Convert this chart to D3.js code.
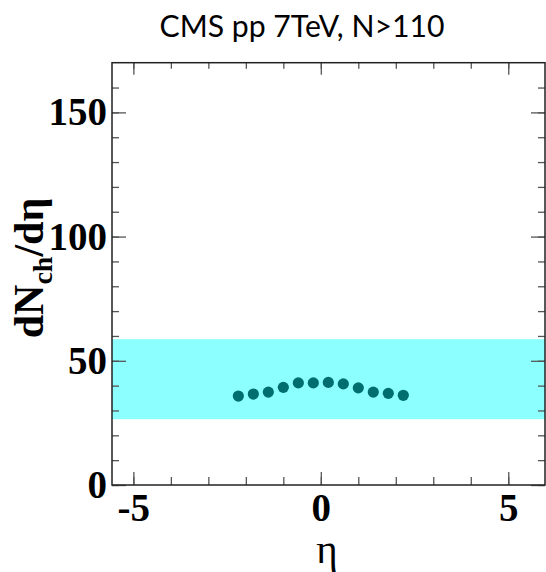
<!DOCTYPE html>
<html>
<head>
<meta charset="utf-8">
<script src="https://cdn.jsdelivr.net/npm/d3@7"></script>
<style>
  body { margin: 0; background: #fff; }
  svg { display: block; }
</style>
</head>
<body>
<div id="chart"></div>
<script>
// data
var eta = [-2.2, -1.8, -1.4, -1.0, -0.6, -0.2, 0.2, 0.6, 1.0, 1.4, 1.8, 2.2];
var dNdeta = [35.8, 36.6, 37.4, 39.3, 41.1, 41.1, 41.3, 40.7, 39.1, 37.4, 36.9, 36.1];
var bandRange = [26.5, 58.7];
var xMajor = [-5, 0, 5];
var xMinor = [-5, -4, -3, -2, -1, 0, 1, 2, 3, 4, 5];
var yMajor = [0, 50, 100, 150];
var yMinor = [0, 10, 20, 30, 40, 50, 60, 70, 80, 90, 100, 110, 120, 130, 140, 150, 160];

var width = 546, height = 572;
var frameLeft = 112, frameRight = 545, frameTop = 62.7, frameBottom = 485;

var svg = d3.select('#chart').append('svg')
  .attr('width', width)
  .attr('height', height);

var x = d3.scaleLinear().domain([-5.57, 5.98]).range([frameLeft, frameRight]);
var y = d3.scaleLinear().domain([0, 170]).range([frameBottom, frameTop]);

// systematic band
svg.append('rect')
  .attr('x', x.range()[0])
  .attr('width', x.range()[1] - x.range()[0])
  .attr('y', y(bandRange[1]))
  .attr('height', y(bandRange[0]) - y(bandRange[1]))
  .attr('fill', '#8cffff');

// ticks, all inward
function ticks(axis, values, size, tr) {
  var g = svg.append('g')
    .attr('transform', tr)
    .call(axis.tickValues(values).tickSize(size).tickFormat(''));
  g.select('.domain').remove();
  g.selectAll('.tick line').attr('stroke', '#555').attr('stroke-width', 1.3);
  return g;
}
ticks(d3.axisBottom(x), xMinor, -8, 'translate(0,' + frameBottom + ')');
ticks(d3.axisBottom(x), xMajor, -13, 'translate(0,' + frameBottom + ')');
ticks(d3.axisTop(x), xMinor, -6, 'translate(0,' + frameTop + ')');
ticks(d3.axisTop(x), xMajor, -12, 'translate(0,' + frameTop + ')');
ticks(d3.axisLeft(y), yMinor, -7, 'translate(' + frameLeft + ',0)');
ticks(d3.axisLeft(y), yMajor, -14, 'translate(' + frameLeft + ',0)');
ticks(d3.axisRight(y), yMinor, -7, 'translate(' + frameRight + ',0)');
ticks(d3.axisRight(y), yMajor, -14, 'translate(' + frameRight + ',0)');

// frame
svg.append('rect')
  .attr('x', frameLeft).attr('y', frameTop)
  .attr('width', frameRight - frameLeft).attr('height', frameBottom - frameTop)
  .attr('fill', 'none')
  .attr('stroke', '#222')
  .attr('stroke-width', 1.5);

// tick labels
var xl = svg.append('g')
  .attr('transform', 'translate(0,' + frameBottom + ')')
  .call(d3.axisBottom(x).tickValues(xMajor).tickSize(0).tickPadding(8).tickFormat(d3.format('d')));
xl.select('.domain').remove();
xl.selectAll('text')
  .attr('font-family', '"Liberation Serif", serif')
  .attr('font-weight', 'bold')
  .attr('font-size', 39)
  .attr('fill', '#000')
  .text(function (d) { return d < 0 ? '-' + Math.abs(d) : d; });

var yl = svg.append('g')
  .attr('transform', 'translate(' + frameLeft + ',0)')
  .call(d3.axisLeft(y).tickValues(yMajor).tickSize(0).tickPadding(5).tickFormat(d3.format('d')));
yl.select('.domain').remove();
yl.selectAll('text')
  .attr('font-family', '"Liberation Serif", serif')
  .attr('font-weight', 'bold')
  .attr('font-size', 39)
  .attr('fill', '#000');

// data points
svg.append('g').selectAll('circle')
  .data(eta)
  .enter()
  .append('circle')
  .attr('cx', function (d) { return x(d); })
  .attr('cy', function (d, i) { return y(dNdeta[i]); })
  .attr('r', 5.6)
  .attr('fill', '#006e6e');

// title
svg.append('text')
  .attr('x', 302)
  .attr('y', 37)
  .attr('text-anchor', 'middle')
  .attr('font-family', 'Lato, "Open Sans", sans-serif')
  .attr('font-size', 30)
  .attr('textLength', 285)
  .attr('lengthAdjust', 'spacingAndGlyphs')
  .attr('fill', '#000')
  .text('CMS pp 7TeV, N>110');

// x axis title
svg.append('text')
  .attr('x', 327)
  .attr('y', 563)
  .attr('text-anchor', 'middle')
  .attr('font-family', '"Liberation Serif", serif')
  .attr('font-size', 41)
  .attr('fill', '#000')
  .text('η');

// y axis title
var yt = svg.append('text')
  .attr('transform', 'translate(43,268) rotate(-90)')
  .attr('text-anchor', 'middle')
  .attr('font-family', '"Liberation Serif", serif')
  .attr('font-weight', 'bold')
  .attr('font-size', 42)
  .attr('fill', '#000');
yt.append('tspan').text('dN');
yt.append('tspan').attr('font-size', 28).attr('dy', 9).text('ch');
yt.append('tspan').attr('dy', -9).text('/dη');
</script>
</body>
</html>
